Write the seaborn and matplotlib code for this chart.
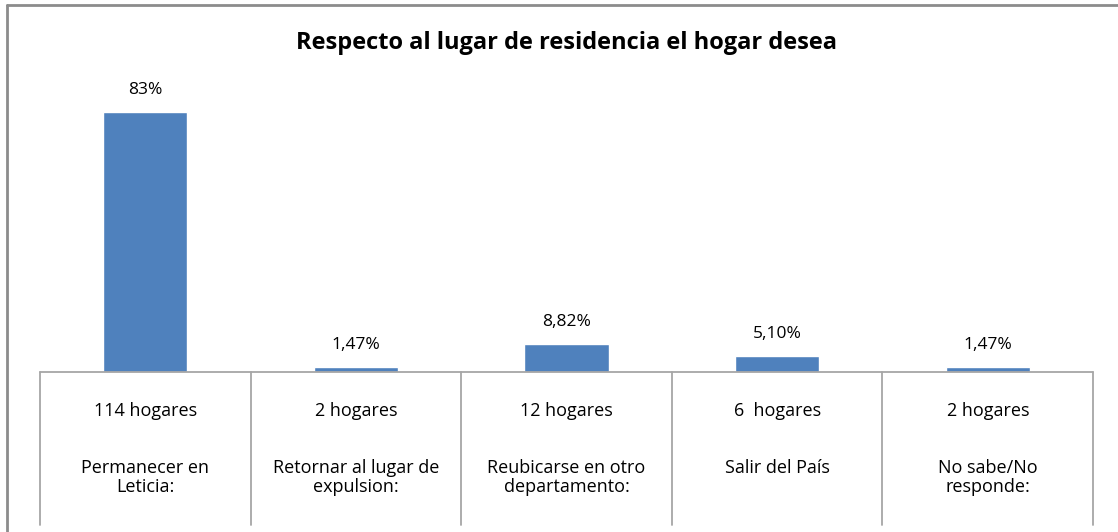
import matplotlib
matplotlib.use("Agg")
import matplotlib.pyplot as plt
import pandas as pd
import seaborn as sns
from matplotlib.lines import Line2D

# data
CATEGORIES = ["Permanecer en\nLeticia:", "Retornar al lugar de\nexpulsion:",
              "Reubicarse en otro\ndepartamento:", "Salir del País",
              "No sabe/No\nresponde:"]
HOUSEHOLDS = ["114 hogares", "2 hogares", "12 hogares", "6  hogares", "2 hogares"]
PERCENT = [83, 1.47, 8.82, 5.10, 1.47]
PERCENT_LABELS = ["83%", "1,47%", "8,82%", "5,10%", "1,47%"]

TITLE = "Respecto al lugar de residencia el hogar desea"
BAR_COLOR = "#4F81BD"
LINE_COLOR = "#A6A6A6"

sns.set_style("white")
plt.rcParams["font.family"] = ["Open Sans", "DejaVu Sans"]

data = pd.DataFrame({"categoria": CATEGORIES, "porcentaje": PERCENT})

fig = plt.figure(figsize=(11.18, 5.32), dpi=100)
ax = fig.add_axes([0.0358, 0.3008, 0.9419, 0.5883])

sns.barplot(data=data, x="categoria", y="porcentaje", color=BAR_COLOR,
            width=0.4, saturation=1, ax=ax)

ax.set_ylim(0, 100)
ax.set_xlim(-0.5, len(CATEGORIES) - 0.5)
ax.set_xticks([])
ax.set_yticks([])
ax.set_xlabel("")
ax.set_ylabel("")
for side in ["left", "right", "top", "bottom"]:
    ax.spines[side].set_visible(False)

# value labels above the bars
for patch, label in zip(ax.patches, PERCENT_LABELS):
    ax.annotate(label, (patch.get_x() + patch.get_width() / 2, patch.get_height()),
                xytext=(0, 10), textcoords="offset points",
                ha="center", va="bottom", fontsize=12.5, color="black")

# table-like category axis
trans = ax.get_xaxis_transform()
ax.plot([-0.5, len(CATEGORIES) - 0.5], [0, 0], color=LINE_COLOR, lw=1.3,
        transform=trans, clip_on=False)
for i in range(len(CATEGORIES) + 1):
    ax.plot([i - 0.5, i - 0.5], [0, -0.489], color=LINE_COLOR, lw=1.3,
            transform=trans, clip_on=False)
for i, (hh, cat) in enumerate(zip(HOUSEHOLDS, CATEGORIES)):
    ax.text(i, -0.124, hh, transform=trans, ha="center", va="center",
            fontsize=13, color="black")
    ax.text(i, -0.278, cat, transform=trans, ha="center", va="top",
            fontsize=13, color="black", linespacing=1.1,
            multialignment="center")

fig.text(0.507, 0.919, TITLE, ha="center", va="center", fontsize=17,
         fontweight="bold", color="black")

# outer chart border (left and top only visible)
fig.add_artist(Line2D([7 / 1118, 7 / 1118], [0, 1 - 5 / 532], color="#8C8C8C",
                      lw=2, transform=fig.transFigure))
fig.add_artist(Line2D([7 / 1118, 1], [1 - 5 / 532, 1 - 5 / 532], color="#8C8C8C",
                      lw=2, transform=fig.transFigure))

fig.savefig("out.png", dpi=100)
